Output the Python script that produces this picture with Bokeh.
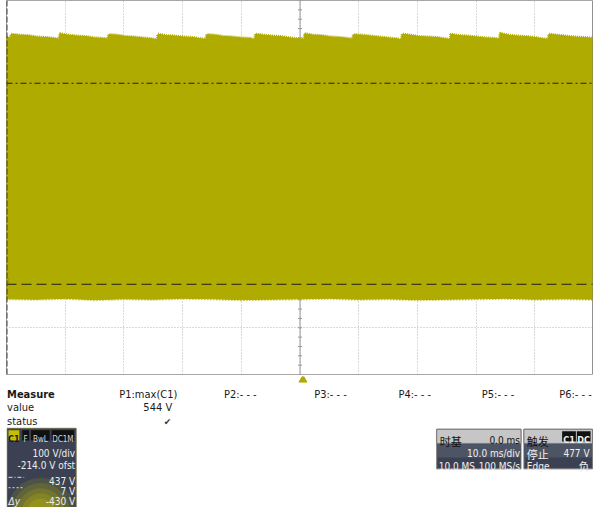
from bokeh.plotting import figure
from bokeh.models import Range1d, FixedTicker, Span, Label
from bokeh.layouts import column
from bokeh.embed import file_html
from bokeh.resources import INLINE

MS_PER_DIV = 10.0
VOLTS_PER_DIV = 100.0
OFFSET_V = -214.0
CURSOR_A_V = 437.0
CURSOR_B_V = 7.0
DELTA_Y_V = -430.0
MAX_V = 544
TRIG_LEVEL_V = 477
TRIG_POS_MS = 0.0

# upper envelope of the C1 trace (time in ms, volts)
TOP_T = [-50.0, -49.3,
         -49.2, -47.8, -46.3, -44.8, -43.3, -41.8, -41.0,
         -40.9, -39.5, -38.0, -36.5, -35.0, -33.5, -32.7,
         -32.6, -31.2, -29.7, -28.2, -26.7, -25.2, -24.3,
         -24.2, -22.8, -21.3, -19.8, -18.3, -16.8, -16.0,
         -15.9, -14.5, -13.0, -11.5, -10.0, -8.5, -7.7,
         -7.6, -6.2, -4.7, -3.2, -1.7, -0.2, 0.7,
         0.8, 2.2, 3.7, 5.2, 6.7, 8.2, 9.0,
         9.1, 10.5, 12.0, 13.5, 15.0, 16.5, 17.3,
         17.4, 18.8, 20.3, 21.8, 23.3, 24.8, 25.6,
         25.7, 27.1, 28.6, 30.1, 31.6, 33.1, 34.0,
         34.1, 35.5, 37.0, 38.5, 40.0, 41.5, 42.3,
         42.4, 43.8, 45.3, 46.8, 48.3, 50.0]
TOP_V = [535, 534,
         542, 540, 539, 536, 535, 533, 531,
         543, 540, 538, 537, 534, 533, 531,
         541, 540, 537, 536, 534, 532, 530,
         542, 539, 538, 536, 535, 532, 531,
         541, 540, 537, 536, 534, 533, 530,
         542, 540, 538, 537, 534, 532, 531,
         543, 540, 539, 536, 535, 533, 531,
         541, 540, 538, 536, 534, 532, 530,
         542, 540, 537, 536, 535, 532, 531,
         542, 539, 538, 536, 534, 533, 531,
         544, 540, 538, 537, 535, 532, 531,
         542, 540, 538, 536, 535, 533]

# lower envelope of the C1 trace
BOT_T = [-50, -45, -40, -35, -30, -25, -20, -15, -10, -5, 0,
         5, 10, 15, 20, 25, 30, 35, 40, 45, 50]
BOT_V = [-24, -25, -23, -26, -24, -25, -23, -24, -26, -25, -24,
         -23, -25, -24, -26, -25, -24, -23, -25, -24, -25]

MEAS_LABELS = ["P1:max(C1)", "P2:- - -", "P3:- - -", "P4:- - -", "P5:- - -", "P6:- - -"]
MEAS_X = [123, 230, 322, 408, 493, 572]

YEL = "#afab00"
FONT = "DejaVu Sans Condensed"
CJK = "Noto Sans CJK SC"

center_v = -OFFSET_V
y_lo = center_v - 4 * VOLTS_PER_DIV
y_hi = center_v + 4 * VOLTS_PER_DIV
x_lo = -5 * MS_PER_DIV
x_hi = 5 * MS_PER_DIV

# ---------------- scope screen ----------------
p = figure(width=593, height=376, x_range=Range1d(x_lo, x_hi), y_range=Range1d(y_lo, y_hi),
           output_backend="svg", toolbar_location=None,
           x_axis_location=None, y_axis_location=None,
           min_border_left=6, min_border_right=0, min_border_top=0, min_border_bottom=2)
p.background_fill_color = "white"
p.border_fill_color = "white"
p.outline_line_color = "#a8a8a8"

xt = [x_lo + k * MS_PER_DIV for k in range(11)]
yt = [y_lo + k * VOLTS_PER_DIV for k in range(9)]
p.xgrid.ticker = FixedTicker(ticks=xt)
p.ygrid.ticker = FixedTicker(ticks=yt)
for g in (p.xgrid, p.ygrid):
    g.grid_line_color = "#b4b4b4"
    g.grid_line_dash = "1 2"
    g.grid_line_width = 1

# centre vertical axis with minor ticks
p.segment(x0=[0], x1=[0], y0=[y_lo], y1=[y_hi], line_color="#9a9a9a", line_width=1)
minor = [y_lo + k * VOLTS_PER_DIV / 5 for k in range(41)]
p.segment(x0=[-0.35] * len(minor), x1=[0.35] * len(minor), y0=minor, y1=minor,
          line_color="#9a9a9a", line_width=1)

# waveform band
xs = TOP_T + BOT_T[::-1]
ys = TOP_V + BOT_V[::-1]
p.patch(xs, ys, fill_color=YEL, line_color=YEL, line_width=1)
# fuzzy edges of the dense trace
p.line(TOP_T, TOP_V, line_color=YEL, line_width=3, line_dash="1 1")
p.line(BOT_T, BOT_V, line_color=YEL, line_width=3, line_dash="1 2")

# cursors
p.add_layout(Span(location=CURSOR_A_V, dimension="width", line_color="#1e1e1e",
                  line_width=1, line_dash="6 3 2 3"))
p.add_layout(Span(location=CURSOR_B_V, dimension="width", line_color="#1e1e1e",
                  line_width=1, line_dash="10 5"))

# borders
p.add_layout(Span(location=x_lo, dimension="height", line_color="#3a3a3a",
                  line_width=2, line_dash="6 2"))
p.add_layout(Span(location=x_hi, dimension="height", line_color="#7a7a7a", line_width=2))

# ground marker
p.add_layout(Label(x=x_lo, y=0, x_offset=-5, y_offset=3, text="C1", text_font=FONT,
                   text_font_size="7px", text_color="#8f8b00", text_baseline="bottom"))
p.add_layout(Label(x=x_lo, y=0, x_offset=-6, text="\u2014", text_font="DejaVu Sans",
                   text_font_size="7px", text_color=YEL, text_baseline="middle"))

# ---------------- info panel ----------------
q = figure(width=593, height=131, x_range=Range1d(7.94, 607), y_range=Range1d(523, 384),
           output_backend="svg", toolbar_location=None,
           x_axis_location=None, y_axis_location=None, min_border=0)
q.grid.visible = False
q.outline_line_color = None
q.background_fill_color = "white"
q.border_fill_color = "white"


def lab(x, y, s, size="11px", color="#1a1a1a", align="left", font=FONT, style="normal"):
    q.add_layout(Label(x=x, y=y, text=s, text_font=font, text_font_size=size,
                       text_color=color, text_align=align, text_baseline="alphabetic",
                       text_font_style=style))


# trigger position marker
trig_x = 310.5 + TRIG_POS_MS / MS_PER_DIV * 59.3
q.scatter([trig_x], [387.5], marker="triangle", size=8, color=YEL)

lab(8.5, 403, "Measure", style="bold")
lab(8.5, 417, "value")
lab(8.5, 432, "status")
for s, x in zip(MEAS_LABELS, MEAS_X):
    lab(x, 403, s)
lab(177, 417, f"{MAX_V} V", align="right")
lab(176, 432, "\u2714", size="9px", color="#333333", align="right", font="DejaVu Sans")

# C1 channel box
q.quad(left=8.5, right=79, top=439, bottom=524, fill_color="#3b4152", line_color="#6e6c4a")
for w, a in zip([70, 60, 50, 40, 30], [0.14, 0.16, 0.18, 0.2, 0.22]):
    q.ellipse(x=[43], y=[530], width=w, height=w * 1.1, fill_color="#c9c300",
              fill_alpha=a, line_color=None)
q.quad(left=[10, 24, 33, 54], right=[21, 31, 52, 77], top=[441] * 4, bottom=[452] * 4,
       fill_color=["#c4bf00", "#111111", "#111111", "#111111"], line_color=None)
lab(15.5, 450.5, "C1", size="9px", color="#1a1a1a", align="center", style="bold")
lab(27.5, 450.5, "F", size="8px", color="#d8d8d8", align="center")
lab(42.5, 450.5, "BwL", size="8px", color="#d8d8d8", align="center")
lab(65.5, 450.5, "DC1M", size="8px", color="#d8d8d8", align="center")
lab(78, 466, f"{VOLTS_PER_DIV:.0f} V/div", size="10px", color="#eeeeee", align="right")
lab(78, 478, f"{OFFSET_V:.1f} V ofst", size="10px", color="#eeeeee", align="right")
lab(78, 495, f"{CURSOR_A_V:.0f} V", size="10px", color="#eeeeee", align="right")
lab(78, 506, f"{CURSOR_B_V:.0f} V", size="10px", color="#eeeeee", align="right")
lab(78, 517, f"{DELTA_Y_V:.0f} V", size="10px", color="#eeeeee", align="right")
lab(10, 517, "\u0394y", size="10px", color="#eeeeee", style="italic")
q.segment(x0=[10, 10], x1=[26, 26], y0=[491, 502], y1=[491, 502], line_color="#dddddd",
          line_width=1, line_dash=["4 2 1 2", "2 2"])

# timebase box
q.quad(left=447, right=533, top=440, bottom=482, fill_color="#3b4152", line_color="#7a7a7a")
q.quad(left=447.5, right=532.5, top=455, bottom=470, fill_color="#4d5464", line_color=None)
q.quad(left=447, right=533, top=440, bottom=455, fill_color="#c6c6c6", line_color="#7a7a7a")
lab(450, 452, "\u65f6\u57fa", size="11px", color="#111111", font=CJK)
lab(532, 452, "0.0 ms", size="10px", color="#111111", align="right")
lab(532, 466, f"{MS_PER_DIV:.1f} ms/div", size="10px", color="#f0f0f0", align="right")
lab(449, 479, "10.0 MS", size="10px", color="#f0f0f0")
lab(532, 479, "100 MS/s", size="10px", color="#f0f0f0", align="right")

# trigger box
q.quad(left=536, right=606, top=440, bottom=482, fill_color="#3b4152", line_color="#7a7a7a")
q.quad(left=536.5, right=605.5, top=455, bottom=470, fill_color="#4d5464", line_color=None)
q.quad(left=536, right=606, top=440, bottom=455, fill_color="#c6c6c6", line_color="#7a7a7a")
lab(539, 452, "\u89e6\u53d1", size="11px", color="#111111", font=CJK)
q.quad(left=[575, 590], right=[589, 604], top=[442, 442], bottom=[453, 453],
       fill_color="#111111", line_color=None)
lab(582, 451.5, "C1", size="9px", color="#f0f0f0", align="center", style="bold")
lab(597, 451.5, "DC", size="9px", color="#f0f0f0", align="center", style="bold")
lab(539, 466.5, "\u505c\u6b62", size="11px", color="#f0f0f0", font=CJK)
lab(603, 466, f"{TRIG_LEVEL_V} V", size="10px", color="#f0f0f0", align="right")
lab(539, 479, "Edge", size="10px", color="#f0f0f0")
lab(603, 479, "\u8d1f", size="11px", color="#f0f0f0", align="right", font=CJK)

layout = column(p, q, spacing=0)
open("out.html", "w").write(file_html(layout, INLINE))
